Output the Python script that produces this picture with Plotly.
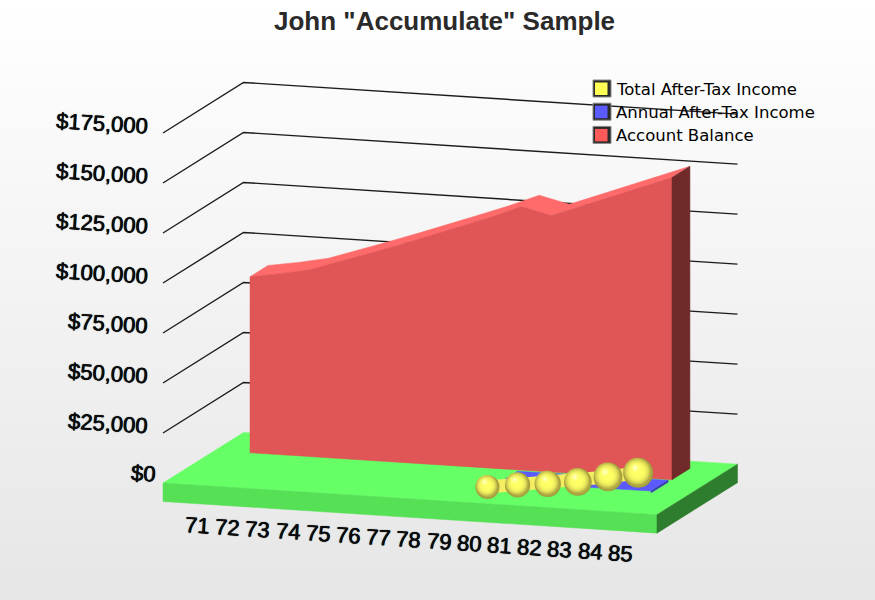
import plotly.graph_objects as go

ages = list(range(71, 86))
account_balance = [88000, 90500, 93500, 98500, 103750, 109000, 114400, 120000,
                   125600, 131800, 128250, 134000, 139700, 145400, 151100]
annual_income = [0, 0, 0, 0, 0, 0, 0, 0, 0, 600, 700, 800, 800, 900, 900]
total_income = [None] * 9 + [2200, 4150, 5650, 7600, 11050, 14050]
tick_values = [0, 25000, 50000, 75000, 100000, 125000, 150000, 175000]
tick_labels = ["$0", "$25,000", "$50,000", "$75,000", "$100,000", "$125,000", "$150,000", "$175,000"]
legend_names = ["Total After-Tax Income", "Annual After-Tax Income", "Account Balance"]

# Oblique projection of (category, depth, value) onto the page
ORIGIN = (163.0, 483.0)
CAT_STEP = (30.14, 1.93)
DEPTH_STEP = (80.5, -50.5)
PX_PER_DOLLAR = 0.002
FIRST_CAT = 1.167
FLOOR_CATS = 16.39
FLOOR_THICK = 18.5


def project(cat, depth, value=0.0):
    px = ORIGIN[0] + CAT_STEP[0] * cat + DEPTH_STEP[0] * depth
    py = ORIGIN[1] + CAT_STEP[1] * cat + DEPTH_STEP[1] * depth - value * PX_PER_DOLLAR
    return px, py


def poly(points, color):
    xs = [p[0] for p in points] + [points[0][0]]
    ys = [p[1] for p in points] + [points[0][1]]
    return go.Scatter(x=xs, y=ys, mode="lines", fill="toself", fillcolor=color,
                      line=dict(color=color, width=0.5), hoverinfo="skip")


fig = go.Figure()

# Backdrop gradient panel
bands = list(range(0, 601, 20))
fig.add_trace(go.Heatmap(
    x=[18, 875], y=bands, z=[[b, b] for b in bands], zmin=0, zmax=600, zsmooth="best",
    colorscale=[[0, "#ffffff"], [1, "#e6e6e6"]], showscale=False, hoverinfo="skip"))

# Wall and side grid lines
for v in tick_values[1:]:
    a = project(0, 0, v)
    b = project(0, 1, v)
    c = project(FLOOR_CATS, 1, v)
    fig.add_trace(go.Scatter(x=[a[0], b[0], c[0]], y=[a[1], b[1], c[1]], mode="lines",
                             line=dict(color="#1c1c1c", width=1.4), hoverinfo="skip"))

# Floor slab
fl, fr = project(0, 0), project(FLOOR_CATS, 0)
bl, br = project(0, 1), project(FLOOR_CATS, 1)
down = lambda p: (p[0], p[1] + FLOOR_THICK)
fig.add_trace(poly([fl, fr, br, bl], "#66ff66"))
fig.add_trace(poly([fl, fr, down(fr), down(fl)], "#55e055"))
fig.add_trace(poly([fr, br, down(br), down(fr)], "#2e7d2e"))

# Account balance ribbon
RED_FRONT, RED_BACK = 0.644, 0.867
cats = [FIRST_CAT + i for i in range(len(ages))]
front_top = [project(c, RED_FRONT, v) for c, v in zip(cats, account_balance)]
back_top = [project(c, RED_BACK, v) for c, v in zip(cats, account_balance)]
front_base = [project(c, RED_FRONT) for c in cats]
fig.add_trace(poly(front_top + back_top[::-1], "#ff6b6b"))
fig.add_trace(poly(front_top + front_base[::-1], "#e05555"))
fig.add_trace(poly([front_top[-1], back_top[-1], project(cats[-1], RED_BACK), front_base[-1]], "#702a2a"))

# Annual income ribbon, nearly flat on the floor
BLUE_FRONT, BLUE_BACK = 0.385, 0.596
blue_idx = [i for i, v in enumerate(annual_income) if v > 0]
blue_front = [project(cats[i], BLUE_FRONT, annual_income[i]) for i in blue_idx]
blue_back = [project(cats[i], BLUE_BACK, annual_income[i]) for i in blue_idx]
fig.add_trace(poly(blue_front + blue_back[::-1], "#5a5aff"))
fig.add_trace(poly([blue_front[-1], blue_back[-1], project(cats[-1], BLUE_BACK), project(cats[-1], BLUE_FRONT)], "#3a3ab0"))

# Total income tube with spheres; the radial gradient colour is the centre of each sphere
YELLOW_DEPTH = 0.224
yellow_idx = [i for i, v in enumerate(total_income) if v is not None]
yx, yy = [], []
for i in yellow_idx:
    px, py = project(cats[i], YELLOW_DEPTH, total_income[i])
    yx.append(px)
    yy.append(py)
sizes = [24 + 1.2 * k for k in range(len(yx))]
body_x = [x - 1.2 for x in yx]
body_y = [y - 1.8 for y in yy]
glint_x = [x - 3 for x in yx]
glint_y = [y - 5 for y in yy]
CLEAR_YELLOW = "rgba(255,255,100,0)"
fig.add_trace(go.Scatter(x=yx, y=yy, mode="lines", line=dict(color="#f4ee60", width=13), hoverinfo="skip"))
fig.add_trace(go.Scatter(x=yx, y=yy, mode="markers", hoverinfo="skip",
                         marker=dict(size=sizes, color="#a09a3c", opacity=1, line=dict(width=0),
                                     gradient=dict(type="radial", color="#ffff66"))))
for _ in range(3):
    fig.add_trace(go.Scatter(x=body_x, y=body_y, mode="markers", hoverinfo="skip",
                             marker=dict(size=[s * 0.92 for s in sizes], color=CLEAR_YELLOW, opacity=1,
                                         line=dict(width=0), gradient=dict(type="radial", color="#ffff66"))))
fig.add_trace(go.Scatter(x=glint_x, y=glint_y, mode="markers", hoverinfo="skip",
                         marker=dict(size=[s * 0.4 for s in sizes], color=CLEAR_YELLOW, opacity=1,
                                     line=dict(width=0), gradient=dict(type="radial", color="#ffffe0"))))

# Legend swatches
SWATCH_COLORS = ["#ffff55", "#5a5aff", "#ff5a5a"]
SOFT_BOLD = "0 0 1px #000, 0.4px 0 0 #000"
shapes = []
annotations = []
for k, (name, color) in enumerate(zip(legend_names, SWATCH_COLORS)):
    top = 80 + k * 23.2
    shapes.append(dict(type="rect", x0=593, x1=611, y0=top, y1=top + 17, layer="above",
                       fillcolor="#2a2a2a", line=dict(color="#8a8a8a", width=1)))
    shapes.append(dict(type="rect", x0=595, x1=607.5, y0=top + 2.5, y1=top + 15, layer="above",
                       fillcolor=color, line=dict(width=0)))
    annotations.append(dict(x=614, y=top + 9, text=name, xanchor="left", yanchor="middle",
                            showarrow=False, font=dict(family="DejaVu Sans", size=16.5, color="#000000")))

# Value labels
for k, label in enumerate(tick_labels):
    annotations.append(dict(x=158 if k == 0 else 150.5, y=473 - k * 49.9, text=label, xanchor="right",
                            yanchor="middle", textangle=3.5, showarrow=False,
                            font=dict(family="Liberation Sans", size=22, color="#0c0c0c", shadow=SOFT_BOLD)))

# Category labels
for i, age in enumerate(ages):
    annotations.append(dict(x=197 + 30.2 * i, y=525 + 2.0 * i, text=str(age), xanchor="center", yanchor="middle",
                            textangle=3.5, showarrow=False,
                            font=dict(family="Liberation Sans", size=22, color="#0c0c0c", shadow=SOFT_BOLD)))

# Chart title
annotations.append(dict(x=444, y=21, text='<b>John "Accumulate" Sample</b>', xanchor="center", yanchor="middle",
                        showarrow=False, font=dict(family="Liberation Sans", size=26, color="#2a2a2a")))

fig.update_layout(
    width=875, height=600, margin=dict(l=0, r=0, t=0, b=0), showlegend=False,
    paper_bgcolor="#ffffff", plot_bgcolor="#ffffff", shapes=shapes, annotations=annotations,
    xaxis=dict(range=[0, 875], visible=False, fixedrange=True),
    yaxis=dict(range=[600, 0], visible=False, fixedrange=True),
)
fig.write_html("out.html", config={"displayModeBar": False})
